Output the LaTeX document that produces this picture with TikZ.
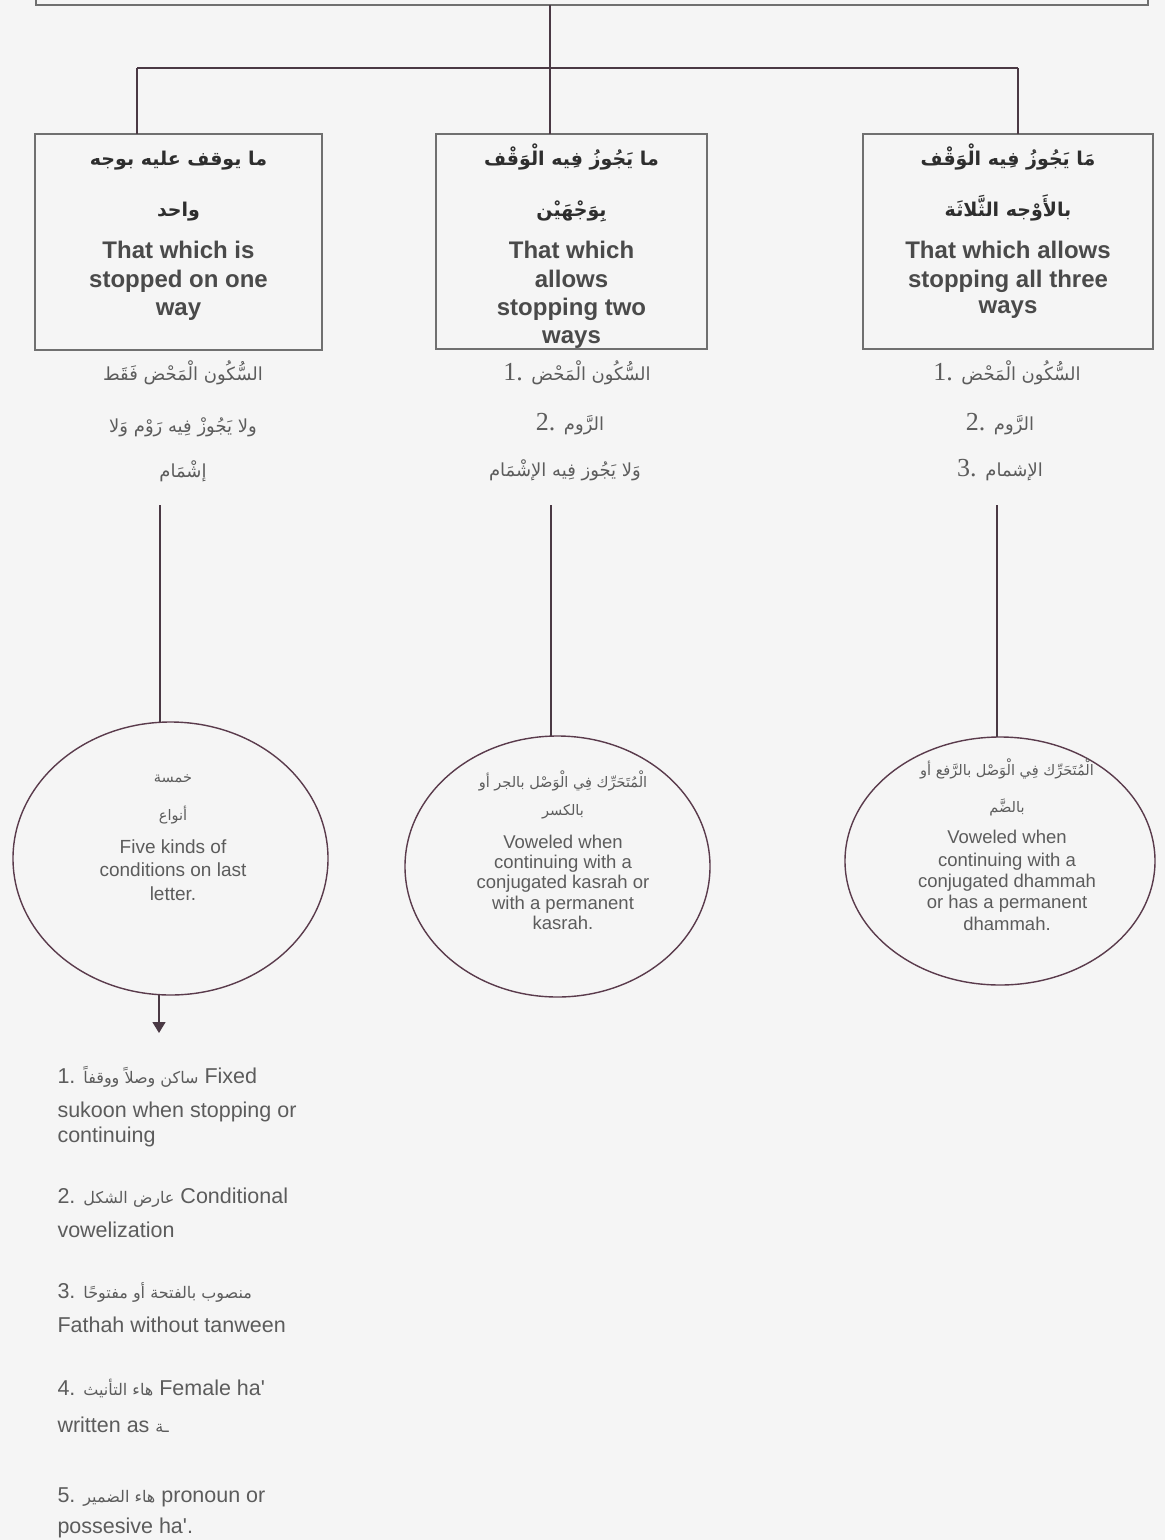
\documentclass[tikz,border=0pt]{standalone}
\usepackage{fontspec}
\setmainfont{Liberation Serif}
\newfontfamily\enf[Ligatures=TeXOff]{Liberation Sans}
\newfontfamily\arf[Script=Arabic]{DejaVu Sans}
\TeXXeTstate=1
\usetikzlibrary{shapes.geometric,arrows.meta}
\definecolor{bgc}{HTML}{F5F5F5}
\definecolor{boxc}{HTML}{707070}
\definecolor{linec}{HTML}{4A3944}
\definecolor{ellc}{HTML}{5A3B4C}
\definecolor{txtc}{HTML}{5C5C5C}
\definecolor{btxt}{HTML}{4A4A4A}
\definecolor{artxt}{HTML}{2E2E2E}
\newcommand\AR[1]{{\arf\beginR #1\endR}}
\newcommand\NUM[1]{{\rmfamily\fontsize{26}{28}\selectfont #1}}
\newcommand\LAR[1]{{\arf\fontsize{16}{18}\selectfont\beginR #1\endR}}
\begin{document}
\begin{tikzpicture}[x=1pt,y=-1pt,
  boxst/.style={draw=boxc, line width=1.5pt, inner sep=0, outer sep=0},
  conn/.style={draw=linec, line width=1.5pt},
  ell/.style={ellipse, draw=ellc, line width=1.4pt, inner sep=0, outer sep=0},
  tx/.style={inner sep=0.5pt, outer sep=0, anchor=base, text=txtc},
  btx/.style={tx, text=btxt, font=\enf\bfseries\fontsize{24}{28}\selectfont},
  bar/.style={tx, text=artxt, font=\arf\bfseries\fontsize{19}{22}\selectfont},
  sar/.style={tx, font=\arf\fontsize{18}{21}\selectfont},
  ctx/.style={tx, font=\enf\fontsize{18.5}{21}\selectfont},
  car/.style={tx, font=\arf\fontsize{14.5}{17}\selectfont},
  ltx/.style={tx, anchor=base west, font=\enf\fontsize{21.5}{25}\selectfont}]
\fill[bgc] (0,0) rectangle (1165,1540);
\useasboundingbox (0,0) rectangle (1165,1540);

% top box
\node[boxst, line width=2pt, minimum width=1112pt, minimum height=60pt] (top) at (592,-25) {};
% boxes
\node[boxst, minimum width=287pt, minimum height=216pt] (b1) at (178.5,242) {};
\node[boxst, minimum width=271pt, minimum height=215pt] (b2) at (571.5,241.5) {};
\node[boxst, minimum width=290pt, minimum height=215pt] (b3) at (1008,241.5) {};
% ellipses
\node[ell, minimum width=315pt, minimum height=273pt] (e1) at (170.5,858.5) {};
\node[ell, minimum width=305pt, minimum height=261pt] (e2) at (557.5,866.5) {};
\node[ell, minimum width=310pt, minimum height=248pt] (e3) at (1000,861) {};

% connectors
\coordinate (tm) at (550,5);
\coordinate (hl) at (137,68);
\coordinate (hr) at (1018,68);
\draw[conn] (tm) -- (tm |- b2.north);
\draw[conn, line width=2.2pt] (hl) -- (hr);
\draw[conn] (hl) -- (hl |- b1.north);
\draw[conn] (hr) -- (hr |- b3.north);
\coordinate (v1) at (160,505);
\coordinate (v2) at (551,505);
\coordinate (v3) at (997,505);
\draw[conn] (v1) -- (v1 |- e1.north);
\draw[conn] (v2) -- (v2 |- e2.north);
\draw[conn] (v3) -- (v3 |- e3.north);
\coordinate (a1) at (159,1033);
\draw[conn, -{Triangle[width=13pt,length=11pt]}] (e1.south -| a1) -- (a1);

% box texts
\node[bar] (b1a1) at (178.5,165) {\beginR ما يوقف عليه بوجه\endR};
\node[bar] (b1a2) at (178.5,216) {\beginR واحد\endR};
\node[btx] (b1e1) at (178.5,258) {That which is};
\node[btx] (b1e2) at (178.5,287) {stopped on one};
\node[btx] (b1e3) at (178.5,315) {way};

\node[bar] (b2a1) at (571.5,165) {\beginR ما يَجُوزُ فِيه الْوَقْف\endR};
\node[bar] (b2a2) at (571.5,216) {\beginR بِوَجْهَيْن\endR};
\node[btx] (b2e1) at (571.5,258) {That which};
\node[btx] (b2e2) at (571.5,287) {allows};
\node[btx] (b2e3) at (571.5,315) {stopping two};
\node[btx] (b2e4) at (571.5,343) {ways};

\node[bar] (b3a1) at (1008,165) {\beginR مَا يَجُوزُ فِيه الْوَقْف\endR};
\node[bar] (b3a2) at (1008,216) {\beginR بالأَوْجه الثَّلاثَة\endR};
\node[btx] (b3e1) at (1008,258) {That which allows};
\node[btx] (b3e2) at (1008,287) {stopping all three};
\node[btx] (b3e3) at (1008,313) {ways};

% texts under boxes
\node[sar] (s1a) at (183,380) {\beginR السُّكُون الْمَحْض فَقَط\endR};
\node[sar] (s1b) at (183,432) {\beginR ولا يَجُوزْ فِيه رَوْم وَلا\endR};
\node[sar] (s1c) at (183,477) {\beginR إشْمَام\endR};

\node[sar] (s2a) at (577,380) {\NUM{1. }\beginR السُّكُون الْمَحْض\endR};
\node[sar] (s2b) at (570,430) {\NUM{2. }\beginR الرَّوم\endR};
\node[sar] (s2c) at (565,476) {\beginR وَلا يَجُوز فِيه الإشْمَام\endR};

\node[sar] (s3a) at (1007,380) {\NUM{1. }\beginR السُّكُون الْمَحْض\endR};
\node[sar] (s3b) at (1000,430) {\NUM{2. }\beginR الرَّوم\endR};
\node[sar] (s3c) at (1000,476) {\NUM{3. }\beginR الإشمام\endR};

% circle texts
\node[car] (c1a) at (173,782) {\beginR خمسة\endR};
\node[car] (c1b) at (173,820) {\beginR أنواع\endR};
\node[ctx, font=\enf\fontsize{19}{22}\selectfont] (c1c) at (173,853) {Five kinds of};
\node[ctx, font=\enf\fontsize{19}{22}\selectfont] (c1d) at (173,876) {conditions on last};
\node[ctx, font=\enf\fontsize{19}{22}\selectfont] (c1e) at (173,900) {letter.};

\node[car] (c2a) at (563,787) {\beginR الْمُتَحَرِّك فِي الْوَصْل بالجر أو\endR};
\node[car] (c2b) at (563,815) {\beginR بالكسر\endR};
\node[ctx] (c2c) at (563,848) {Voweled when};
\node[ctx] (c2d) at (563,868) {continuing with a};
\node[ctx] (c2e) at (563,888) {conjugated kasrah or};
\node[ctx] (c2f) at (563,909) {with a permanent};
\node[ctx] (c2g) at (563,929) {kasrah.};

\node[car] (c3a) at (1007,775) {\beginR الْمُتَحَرِّك فِي الْوَصْل بالرَّفع أو\endR};
\node[car] (c3b) at (1007,812) {\beginR بالضَّم\endR};
\node[ctx] (c3c) at (1007,843) {Voweled when};
\node[ctx] (c3d) at (1007,866) {continuing with a};
\node[ctx] (c3e) at (1007,887) {conjugated dhammah};
\node[ctx] (c3f) at (1007,908) {or has a permanent};
\node[ctx] (c3g) at (1007,930) {dhammah.};

% list
\node[ltx] (l1a) at (57,1083) {1. \LAR{ساكن وصلاً ووقفاً} Fixed};
\node[ltx] (l1b) at (57,1117) {sukoon when stopping or};
\node[ltx] (l1c) at (57,1142) {continuing};
\node[ltx] (l2a) at (57,1203) {2. \LAR{عارض الشكل} Conditional};
\node[ltx] (l2b) at (57,1237) {vowelization};
\node[ltx] (l3a) at (57,1298) {3. \LAR{منصوب بالفتحة أو مفتوحًا}};
\node[ltx] (l3b) at (57,1332) {Fathah without tanween};
\node[ltx] (l4a) at (57,1395) {4. \LAR{هاء التأنيث} Female ha'};
\node[ltx] (l4b) at (57,1432) {written as \LAR{ـة}};
\node[ltx] (l5a) at (57,1502) {5. \LAR{هاء الضمير} pronoun or};
\node[ltx] (l5b) at (57,1533) {possesive ha'.};
\end{tikzpicture}
\end{document}
